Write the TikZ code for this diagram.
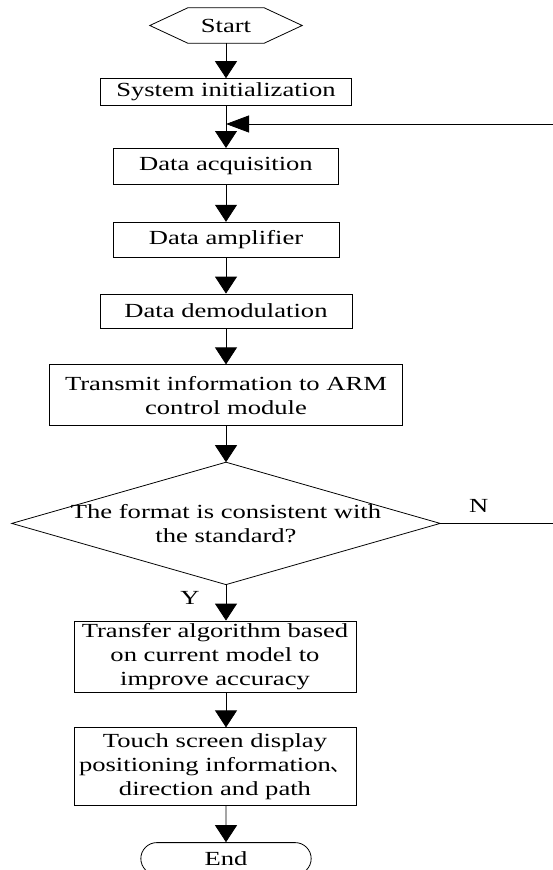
\documentclass[tikz,border=0pt]{standalone}
\usepackage{fontspec}
\setmainfont{Liberation Serif}[FakeStretch=1.33]
\newfontfamily\cjk{Noto Sans CJK SC}
\usetikzlibrary{arrows.meta,positioning,shapes.misc,calc}

\begin{document}
\begin{tikzpicture}[
  x=1pt, y=1pt,
  font=\fontsize{20}{24}\selectfont,
  box/.style={draw, line width=0.8pt, inner sep=2pt, align=center},
  ln/.style={line width=0.8pt},
  arr/.style={-{Triangle[length=17pt,width=22pt]}, line width=0.8pt},
  arrl/.style={-{Triangle[length=23pt,width=17pt]}, line width=0.8pt},
  lab/.style={inner sep=1pt}
]
\useasboundingbox (0,0) rectangle (552,-870);
\node[minimum width=76pt, minimum height=35pt, inner sep=0pt] (start) at (226,-25.5) {Start};
\draw[ln] ($(start.west)+(-38,0)$) -- (start.north west) -- (start.north east)
  -- ($(start.east)+(38,0)$) -- (start.south east) -- (start.south west) -- cycle;
\node[box, minimum width=251pt, minimum height=27pt, below=35pt of start] (sys) {System initialization};
\node[box, minimum width=225pt, minimum height=36pt, below=42pt of sys] (acq) {Data acquisition};
\node[box, minimum width=226pt, minimum height=35pt, below=37pt of acq] (amp) {Data amplifier};
\node[box, minimum width=252pt, minimum height=34pt, below=36pt of amp] (demod) {Data demodulation};
\node[box, minimum width=353pt, minimum height=61pt, below=36pt of demod] (trans) {Transmit information to ARM\\control module};
\node[minimum width=428pt, minimum height=122pt, inner sep=0pt, align=center, below=36pt of trans] (fmt) {The format is consistent with\\the standard?};
\draw[ln] (fmt.north) -- (fmt.east) -- (fmt.south) -- (fmt.west) -- cycle;
\node[box, minimum width=282pt, minimum height=71pt, below=36pt of fmt, xshift=-11pt] (algo) {Transfer algorithm based\\on current model to\\improve accuracy};
\node[box, minimum width=282pt, minimum height=78pt, below=35pt of algo] (touch) {Touch screen display\\positioning information{\cjk 、}\\direction and path};
\node[draw, rounded rectangle, line width=0.8pt, minimum width=177pt, minimum height=32pt, below=36pt of touch, xshift=11pt] (end) {End};
\coordinate (fbtop) at ($(sys.south)+(331,-18)$);

\draw[arr] (start) -- (sys);
\draw[arr] (sys) -- (acq);
\draw[arr] (acq) -- (amp);
\draw[arr] (amp) -- (demod);
\draw[arr] (demod) -- (trans);
\draw[arr] (trans) -- (fmt);
\draw[arr] (fmt.south) -- node[lab, left=25pt, pos=0.36] {Y} (fmt.south |- algo.north);
\draw[arr] (algo.south -| fmt.south) -- (touch.north -| fmt.south);
\draw[arr] (touch.south -| end.north) -- (end);
\draw[ln] (fmt.east) -- node[lab, above=10pt, pos=0.33] {N} (fmt.east -| fbtop) -- (fbtop);
\draw[arrl] (fbtop) -- (sys.south |- fbtop);
\end{tikzpicture}
\end{document}
